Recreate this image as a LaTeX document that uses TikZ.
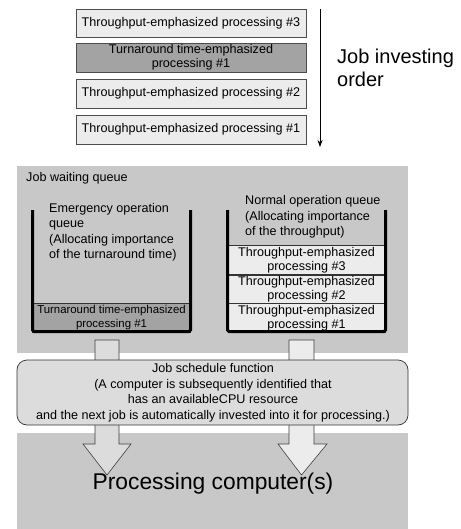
\documentclass[tikz,border=0pt]{standalone}
\usepackage{fontspec}
\setmainfont{Liberation Sans}
\usetikzlibrary{arrows.meta}
\definecolor{bggray}{RGB}{200,200,200}
\definecolor{lightbox}{RGB}{236,236,236}
\definecolor{darkbox}{RGB}{163,163,163}
\definecolor{schedfill}{RGB}{220,220,220}
\begin{document}
\begin{tikzpicture}[x=1pt, y=-1pt,
		every node/.style={font=\fontsize{12.6}{14}\selectfont, inner sep=0pt},
		job/.style={draw=black!70, fill=lightbox, minimum width=230pt, minimum height=28.5pt, align=center},
		qjob/.style={draw=black!80, fill=lightbox, minimum width=157pt, minimum height=29pt, align=center},
		turn/.style={fill=darkbox},
		area/.style={fill=bggray},
		bucket/.style={line width=3pt, rounded corners=1.5pt},
		bigarrow/.style={draw=black!75, line width=0.6pt},
		multi/.style={align=left, font=\fontsize{12.6}{15.5}\selectfont}]

	\useasboundingbox (0,0) rectangle (460,529);

	\node[job] (tp3) at (191,23) {Throughput-emphasized processing \#3};
	\node[job, turn] (ta1) at (191,57.5) {Turnaround time-emphasized\\processing \#1};
	\node[job] (tp2) at (191,93.5) {Throughput-emphasized processing \#2};
	\node[job] (tp1) at (191,129.5) {Throughput-emphasized processing \#1};

	\coordinate (ordtop) at (320,9);
	\coordinate (ordbot) at (320,147);
	\draw[line width=0.7pt, -{Stealth[length=7pt, width=5pt]}] (ordtop) -- (ordbot);
	\node[anchor=west, align=left, font=\fontsize{20}{23}\selectfont] (order) at (337,68) {Job investing\\order};

	\fill[area] (17,166) rectangle (408,353);
	\node[anchor=west] (wait) at (26,178) {Job waiting queue};

	\node[qjob, turn, minimum width=158pt, font=\fontsize{11.4}{14}\selectfont] (eq1) at (111.5,317.5) {Turnaround time-emphasized\\processing \#1};
	\node[multi, anchor=west] (emer) at (49,232) {Emergency operation\\queue\\(Allocating importance\\of the turnaround time)};
	\draw[bucket] (32.5,210) -- (32.5,331.5) -- (190.5,331.5) -- (190.5,210);

	\node[qjob] (nq3) at (306.5,260) {Throughput-emphasized\\processing \#3};
	\node[qjob] (nq2) at (306.5,289.5) {Throughput-emphasized\\processing \#2};
	\node[qjob] (nq1) at (306.5,318) {Throughput-emphasized\\processing \#1};
	\node[multi, anchor=west] (norm) at (245,217) {Normal operation queue\\(Allocating importance\\of the throughput)};
	\draw[bucket] (227.5,210) -- (227.5,331.5) -- (385.5,331.5) -- (385.5,210);

	\fill[area] (17,433) rectangle (408,529);

	\draw[bigarrow, fill=schedfill] (95,340) -- (95,444) -- (83,444) -- (107,475) -- (131,444) -- (119,444) -- (119,340) -- cycle;
	\draw[bigarrow, fill=lightbox] (289,340) -- (289,444) -- (278,444) -- (301.5,475) -- (327,444) -- (314,444) -- (314,340) -- cycle;

	\draw[draw=black!80, line width=0.7pt, fill=schedfill, rounded corners=10pt] (17,360) rectangle (408,425);
	\node[align=center, font=\fontsize{12.6}{15.5}\selectfont] (sched) at (213,392.5) {Job schedule function\\(A computer is subsequently identified that\\has an availableCPU resource\\and the next job is automatically invested into it for processing.)};

	\node[font=\fontsize{22.8}{26}\selectfont] (proc) at (213,484) {Processing computer(s)};
\end{tikzpicture}
\end{document}
